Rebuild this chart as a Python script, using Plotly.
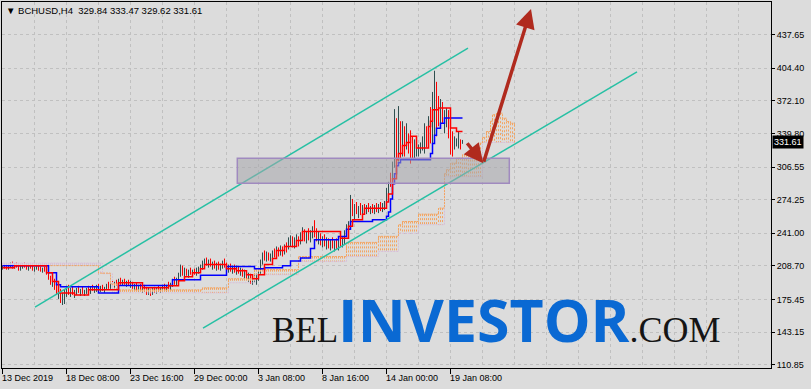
import plotly.graph_objects as go

# ---------------- data (bar index = one H4 bar) ----------------
x_labels = ["13 Dec 2019", "18 Dec 08:00", "23 Dec 16:00", "29 Dec 00:00",
            "3 Jan 08:00", "8 Jan 16:00", "14 Jan 00:00", "19 Jan 08:00"]
x_label_bars = [0, 32, 64, 96, 128, 160, 192, 224]

price_ticks = [110.85, 143.15, 175.45, 208.70, 241.00, 274.25, 306.55,
               339.80, 372.10, 404.40, 437.65]

symbol = "BCHUSD,H4"
first_open = 208.0

highs = [211, 210, 209, 210, 212, 213, 211, 212, 210, 209, 211, 212, 210, 209, 210, 209, 208, 210, 209, 208, 207, 208, 206,
         203, 199, 197, 196, 190, 187, 186, 182, 185, 189,
         190, 187, 188, 185, 187, 189, 186, 188, 185, 187, 189, 188, 190, 188, 190, 191,
         189, 190, 188, 191, 193, 192, 194, 193, 195, 196, 197, 195, 196, 194,
         195, 194, 193, 191, 192, 190, 191, 189, 190, 188, 187, 186, 187, 188, 187, 189, 188, 190,
         191, 190, 193, 192, 196, 198, 197, 202,
         210, 209, 207, 206, 205, 207, 205, 206, 207, 208, 210,
         214, 216, 217, 215, 216, 213, 214, 212, 213, 211, 214, 216,
         212, 210, 211, 209, 210, 209, 208, 207, 206, 205, 204, 202, 201, 199, 200,
         201, 205, 215, 222, 224, 223, 222, 221, 224, 226, 228, 227,
         229, 228, 230, 232, 237, 239, 238, 237, 240, 238,
         242, 247, 245, 243, 246, 244, 248, 254, 246, 243,
         241, 238, 240, 237, 236, 235, 237, 234, 236, 235, 238, 237,
         244, 250, 253,
         279,
         275, 270, 272, 268, 271, 269,
         270, 269, 271, 268, 270, 269, 271, 270, 272, 271, 273,
         286, 292, 301, 312,
         364, 355, 367, 352, 352, 347, 350, 340, 343, 337, 334, 332, 329, 331, 337, 350, 347, 357, 366, 381,
         402, 391, 377, 374, 371, 363, 365, 363, 350, 342, 337, 335, 342, 334, 333.47]

lows = [205, 206, 205, 205, 207, 206, 206, 207, 204, 204, 206, 207, 205, 204, 206, 204, 203, 205, 204, 203, 202, 203, 200,
        195, 190, 188, 185, 180, 176, 172, 170, 171, 178,
        180, 178, 180, 177, 180, 182, 179, 181, 179, 181, 183, 181, 184, 182, 183, 185,
        183, 184, 182, 185, 186, 186, 188, 187, 189, 189, 190, 189, 190, 188,
        189, 187, 186, 185, 185, 183, 184, 182, 183, 180, 180, 179, 180, 182, 181, 183, 182, 184,
        185, 183, 186, 185, 188, 190, 189, 193,
        198, 199, 197, 199, 197, 200, 199, 200, 199, 201, 203,
        205, 208, 209, 207, 208, 205, 206, 204, 205, 204, 206, 207,
        203, 202, 203, 201, 202, 200, 201, 199, 198, 196, 195, 193, 191, 190, 192,
        190, 194, 200, 210, 214, 213, 214, 213, 216, 217, 219, 218,
        219, 218, 220, 222, 225, 228, 227, 226, 229, 228,
        230, 235, 233, 231, 234, 232, 236, 237, 233, 230,
        229, 227, 228, 225, 226, 224, 226, 223, 225, 224, 228, 227,
        230, 238, 243,
        251,
        258, 255, 260, 256, 259, 257,
        261, 260, 262, 260, 261, 260, 262, 261, 263, 262, 264,
        267, 275, 287, 285,
        306, 315, 312, 312, 317, 317, 324, 320, 310, 315, 314, 317, 317, 320, 323, 320, 326, 327, 330, 330,
        337, 337, 347, 347, 350, 340, 346, 335, 319, 317, 324, 327, 325, 324, 329.62]

closes = [208, 207, 206, 209, 210, 207, 209, 208, 205, 208, 210, 208, 206, 208, 207, 205, 207, 208, 206, 205, 206, 204, 201,
          196, 192, 195, 187, 183, 185, 176, 179, 183, 186,
          182, 185, 181, 183, 185, 183, 184, 182, 184, 186, 184, 187, 185, 186, 188, 186,
          188, 185, 187, 189, 188, 191, 189, 192, 190, 194, 191, 193, 191, 192,
          190, 192, 187, 189, 186, 188, 185, 187, 184, 182, 183, 181, 185, 184, 186, 185, 187, 188,
          186, 189, 188, 191, 194, 192, 196, 200,
          207, 201, 205, 200, 203, 202, 204, 201, 205, 206, 208,
          212, 214, 211, 213, 210, 211, 208, 210, 209, 210, 212, 209,
          205, 208, 204, 207, 205, 206, 203, 205, 200, 202, 197, 199, 193, 195, 196,
          198, 203, 213, 219, 217, 220, 216, 219, 222, 220, 226, 221,
          223, 221, 227, 225, 234, 236, 230, 234, 236, 232,
          240, 244, 236, 239, 237, 242, 245, 240, 235, 238,
          232, 235, 230, 233, 228, 232, 229, 231, 227, 233, 230, 235,
          242, 247, 251,
          270,
          262, 266, 263, 265, 262, 266,
          264, 267, 265, 266, 263, 267, 265, 268, 266, 269, 271,
          283, 289, 288, 308,
          345, 322, 350, 320, 345, 325, 343, 330, 318, 316, 326, 328, 329, 330, 334, 345, 330, 350, 340, 370,
          375, 355, 350, 362, 355, 358, 360, 340, 325, 322, 330, 332, 336, 329.84, 331.61]

# Ichimoku lines read as steps: (bar index where the level starts, level)
tenkan_bars = [0, 6, 22, 25, 28, 36, 43, 58, 70, 83, 88, 91, 95, 99, 101, 112, 117, 122, 125, 128, 131, 135, 137,
               141, 147, 150, 169, 173, 175, 180, 181, 192, 193, 195, 197, 198, 200, 202, 204, 207, 213, 214, 215,
               218, 224, 227, 230]
tenkan_vals = [207, 208.9, 201.9, 193.3, 182, 180, 185, 192, 187, 189, 194, 198, 202, 206, 210, 206, 204, 200, 196,
               200, 210, 216, 224, 228, 234, 242.8, 236, 248, 254.4, 260, 265.9, 272, 280, 295, 313.8, 320, 328, 331,
               337, 325.4, 346.8, 352, 363.3, 365, 345.2, 341.8, 341.8]

kijun_bars = [0, 23, 27, 29, 48, 58, 85, 99, 112, 126, 131, 140, 144, 149, 154, 156, 168, 172, 174, 185, 192, 193,
              194, 195, 196, 197, 198, 199, 214, 215, 216, 217, 219, 221, 230]
kijun_vals = [208.9, 202, 190, 188, 182, 189.4, 195, 199.5, 208.2, 206, 207, 209, 213.5, 216.5, 226, 234.6, 237.9,
              245, 252.7, 254.4, 258, 262, 275, 290, 300, 308, 311, 313.8, 320, 330, 338, 345, 350, 355.1, 355.1]

span_a_bars = [0, 48, 54, 58, 100, 113, 126, 148, 172, 188, 198, 200, 208, 218, 221, 222, 224, 227, 230, 233, 236,
               238, 240, 242, 244, 245, 247, 250, 252, 254, 256]
span_a_vals = [209, 201.6, 191, 185, 187, 196, 205, 218, 232, 238, 249.5, 252.7, 260, 266, 300, 304, 310.5, 315.5,
               318.8, 322, 326, 330.3, 336, 341.8, 352, 358.4, 360, 355, 351.7, 350, 348.5]

span_b_bars = [0, 50, 55, 113, 126, 148, 172, 188, 198, 208, 221, 240, 256]
span_b_vals = [211.5, 201, 182, 192, 200, 213, 218, 223, 241, 249.5, 297, 331, 331]

# analyst drawings (bar index, price)
channel_upper_bars = [16.25, 232.75]
channel_upper_prices = [168.0, 424.5]
channel_lower_bars = [100.25, 317.25]
channel_lower_prices = [147.2, 400.8]
zone_bars = [117.4, 253.4]
zone_prices = [290.5, 315.3]
arrow_bars = [231.75, 240.4, 264.25]
arrow_prices = [331.7, 310.3, 463.1]

assert len(highs) == len(lows) == len(closes)
n = len(closes)
bars = list(range(n))
opens = [first_open] + closes[:-1]


def level_at(step_bars, step_vals, i):
    v = step_vals[0]
    for b, val in zip(step_bars, step_vals):
        if b <= i:
            v = val
    return v


BG = "#DCDCDC"
GRID = "#C0C0C0"
FONT = "Liberation Sans, Arial, sans-serif"

fig = go.Figure()

# Kumo hatch
hx_o, hy_o, hx_t, hy_t = [], [], [], []
for i in range(span_a_bars[-1] + 1):
    a = level_at(span_a_bars, span_a_vals, i)
    b = level_at(span_b_bars, span_b_vals, i)
    if a >= b:
        hx_o += [i, i, None]
        hy_o += [a, b, None]
    else:
        hx_t += [i, i, None]
        hy_t += [b, a, None]
fig.add_trace(go.Scatter(x=hx_o, y=hy_o, mode="lines", line=dict(color="#F4A460", width=1, dash="2px,2px"),
                         hoverinfo="skip"))
fig.add_trace(go.Scatter(x=hx_t, y=hy_t, mode="lines", line=dict(color="#D8BFD8", width=1, dash="2px,2px"),
                         hoverinfo="skip"))
fig.add_trace(go.Scatter(x=span_b_bars, y=span_b_vals, mode="lines", line_shape="hv",
                         line=dict(color="#D8BFD8", width=1, dash="2px,1px"), hoverinfo="skip"))
fig.add_trace(go.Scatter(x=span_a_bars, y=span_a_vals, mode="lines", line_shape="hv",
                         line=dict(color="#F4A460", width=1, dash="2px,1px"), hoverinfo="skip"))

# price bars
fig.add_trace(go.Ohlc(x=bars, open=opens, high=highs, low=lows, close=closes, tickwidth=0,
                      increasing=dict(line=dict(color="#2F4F4F", width=1)),
                      decreasing=dict(line=dict(color="#FF0000", width=1)), hoverinfo="skip"))

# Kijun / Tenkan
fig.add_trace(go.Scatter(x=kijun_bars, y=kijun_vals, mode="lines", line_shape="hv",
                         line=dict(color="#0000FF", width=1.5), hoverinfo="skip"))
fig.add_trace(go.Scatter(x=tenkan_bars, y=tenkan_vals, mode="lines", line_shape="hv",
                         line=dict(color="#FF0000", width=1.5), hoverinfo="skip"))

# channel
for cx, cy in ((channel_upper_bars, channel_upper_prices), (channel_lower_bars, channel_lower_prices)):
    fig.add_trace(go.Scatter(x=cx, y=cy, mode="lines", line=dict(color="#27C0A4", width=1.5), hoverinfo="skip"))

# zone rectangle
fig.add_shape(type="rect", xref="x", yref="y", x0=zone_bars[0], x1=zone_bars[1], y0=zone_prices[0],
              y1=zone_prices[1], fillcolor="rgba(165,165,172,0.55)", line=dict(color="#A08ABF", width=1.5),
              layer="above")

annotations = []
# arrows
for k in range(2):
    annotations.append(dict(x=arrow_bars[k + 1], y=arrow_prices[k + 1], ax=arrow_bars[k], ay=arrow_prices[k],
                            xref="x", yref="y", axref="x", ayref="y", text="", showarrow=True,
                            arrowhead=2, arrowsize=1.1, arrowwidth=3.5, arrowcolor="#B02A1E", standoff=0))

# time labels (left-aligned at their tick)
for b, t in zip(x_label_bars, x_labels):
    annotations.append(dict(x=b, xref="x", y=0, yref="paper", yanchor="top", xanchor="left", text=t,
                            showarrow=False, yshift=-3, xshift=-3, font=dict(family=FONT, size=9, color="black")))

# header
hdr = "\u25BC " + symbol + "\u00a0\u00a0" + " ".join(f"{v:.2f}" for v in (opens[-1], highs[-1], lows[-1], closes[-1]))
annotations.append(dict(x=0, xref="paper", y=1, yref="paper", xanchor="left", yanchor="top", text=hdr,
                        showarrow=False, xshift=2, yshift=-1, font=dict(family=FONT, size=9.5, color="black")))

# current price tag
annotations.append(dict(x=1, xref="paper", y=closes[-1], yref="y", xanchor="left", yanchor="middle",
                        text=f"{closes[-1]:.2f}", showarrow=False, bgcolor="black", borderpad=1, xshift=1,
                        font=dict(family=FONT, size=9, color="white")))

# watermark
wm = ('<span style="font-family:Liberation Serif;font-size:35px;color:#151515">BEL</span>'
      '<span style="font-family:Open Sans;font-size:59px;font-weight:bold;color:#0A69D3">INVESTOR</span>'
      '<span style="font-family:Liberation Serif;font-size:36px;color:#151515">.COM</span>')
annotations.append(dict(x=0.6425, xref="paper", y=0.134, yref="paper", xanchor="center", yanchor="middle",
                        text=wm, showarrow=False, font=dict(family="Open Sans", size=59)))

fig.update_layout(
    width=811, height=389, margin=dict(l=2, r=40, t=2, b=21),
    paper_bgcolor=BG, plot_bgcolor=BG, showlegend=False,
    annotations=annotations,
    xaxis=dict(range=[-0.25, 384.25], tickmode="array", tickvals=x_label_bars, showticklabels=False,
               ticks="outside", ticklen=5, tickcolor="black", showline=True, linecolor="black", linewidth=1,
               mirror=True, showgrid=True, gridcolor=GRID, griddash="3px,3px", zeroline=False,
               rangeslider=dict(visible=False),
               minor=dict(tickvals=[v for v in range(0, 385, 16) if v not in x_label_bars], showgrid=True,
                          gridcolor=GRID, griddash="3px,3px")),
    yaxis=dict(range=[107.62, 470.07], side="right", tickmode="array", tickvals=price_ticks,
               ticktext=[f"{v:.2f}" for v in price_ticks], ticks="outside", ticklen=3, tickcolor="black",
               showline=True, linecolor="black", linewidth=1, mirror=True, showgrid=True, gridcolor=GRID,
               griddash="3px,3px", zeroline=False, tickfont=dict(family=FONT, size=9, color="black")),
)

fig.write_html("out.html")
